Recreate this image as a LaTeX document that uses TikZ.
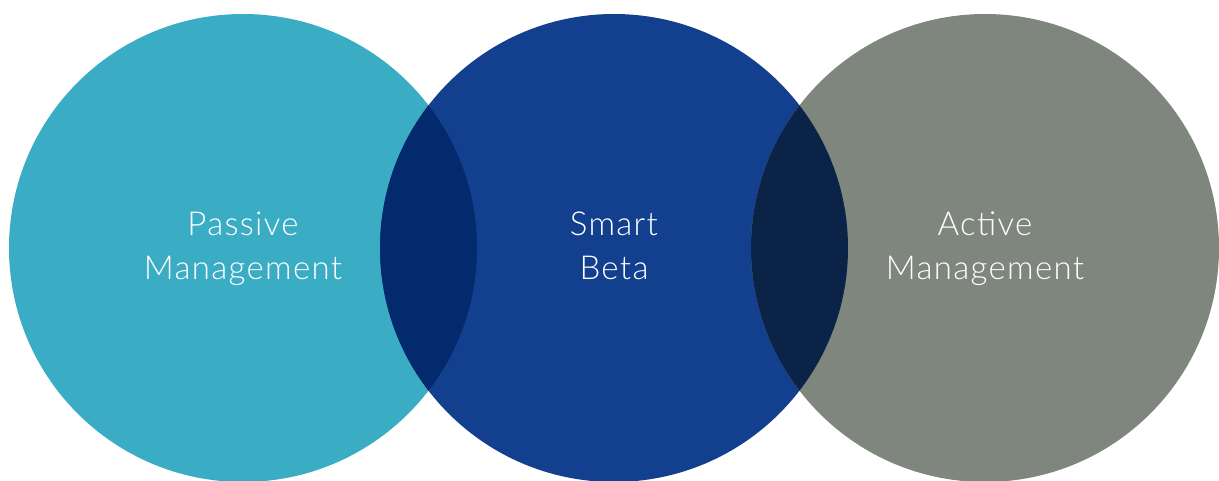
\documentclass[tikz,border=0pt]{standalone}
\usepackage{fontspec}
\setmainfont{Lato}[UprightFont=* Light, LetterSpace=4]
\definecolor{passivecol}{HTML}{3AADC4}
\definecolor{smartcol}{HTML}{123F8E}
\definecolor{activecol}{HTML}{7F867E}
\definecolor{leftlap}{HTML}{032A6D}
\definecolor{rightlap}{HTML}{0A2347}
\begin{document}
\begin{tikzpicture}[x=1pt,y=1pt, every node/.style={text=white, align=center, font=\fontsize{33}{44}\selectfont}]{
    \useasboundingbox (0,0) rectangle (1219,480);

    \fill [passivecol] (243,232) circle (234);
    \fill [smartcol] (614,232) circle (234);
    \fill [activecol] (985,232) circle (234);
    \begin{scope}
        \clip (243,232) circle (234);
        \fill [leftlap] (614,232) circle (234);
    \end{scope}
    \begin{scope}
        \clip (985,232) circle (234);
        \fill [rightlap] (614,232) circle (234);
    \end{scope}

    \node (P) at (243,231) {Passive\\Management};
    \node (S) at (614,234) {Smart\\Beta};
    \node (A) at (985,231) {Active\\Management};
    }
\end{tikzpicture}
\end{document}
